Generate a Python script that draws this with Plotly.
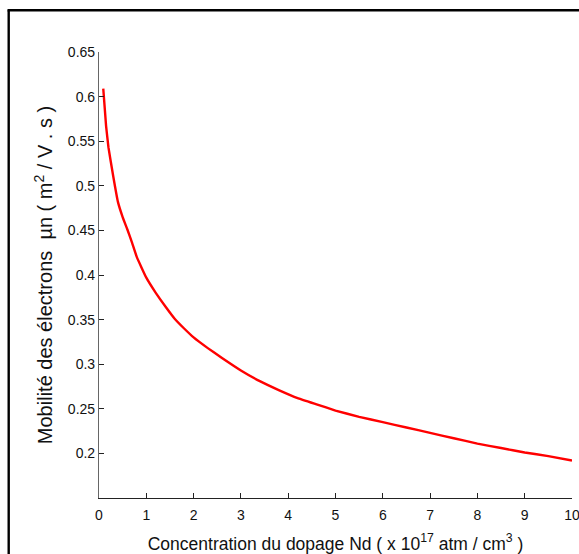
import plotly.graph_objects as go

# Doping concentration Nd (x 1e17 atm/cm^3) and electron mobility (m^2/V.s)
nd = [0.09, 0.15, 0.2, 0.3, 0.4, 0.5, 0.6, 0.7, 0.8, 1.0, 1.2, 1.4, 1.6, 1.8,
      2.0, 2.3, 2.6, 3.0, 3.4, 3.8, 4.2, 4.6, 5.0, 5.5, 6.0, 6.5, 7.0, 7.5,
      8.0, 8.5, 9.0, 9.5, 10.0]
mobility = [0.609, 0.567, 0.543, 0.511, 0.482, 0.465, 0.451, 0.436, 0.420,
            0.397, 0.380, 0.365, 0.351, 0.340, 0.330, 0.318, 0.307, 0.293,
            0.281, 0.271, 0.262, 0.255, 0.248, 0.241, 0.235, 0.229, 0.223,
            0.217, 0.211, 0.206, 0.201, 0.197, 0.192]

x_ticks = list(range(0, 11))
y_ticks = [0.2, 0.25, 0.3, 0.35, 0.4, 0.45, 0.5, 0.55, 0.6, 0.65]
y_tick_text = ["0.2", "0.25", "0.3", "0.35", "0.4", "0.45", "0.5", "0.55", "0.6", "0.65"]

W, H = 579, 554
L, R, T, B = 99, 7, 52, 56

fig = go.Figure()
fig.add_trace(go.Scatter(
    x=nd, y=mobility, mode="lines",
    line=dict(color="#ff0000", width=2.4, shape="spline", smoothing=0.3),
    showlegend=False, hoverinfo="skip",
))

font = "Liberation Sans, Arial, Helvetica, sans-serif"

fig.update_layout(
    width=W, height=H,
    margin=dict(l=L, r=R, t=T, b=B, pad=0),
    paper_bgcolor="white", plot_bgcolor="white",
    font=dict(family=font, size=14, color="#111"),
    showlegend=False,
)
fig.update_xaxes(
    range=[0, 10], tickvals=x_ticks, ticks="inside", ticklen=5, tickwidth=1,
    tickcolor="#222", showline=True, linecolor="#222", linewidth=1.2,
    showgrid=False, zeroline=False, automargin=False,
    ticklabeloverflow="allow", ticklabelstandoff=4,
    tickfont=dict(size=14, family=font, color="#111"),
    title=dict(text="Concentration du dopage Nd ( x 10<sup>17</sup> atm / cm<sup>3</sup> )",
               font=dict(size=17.5, family=font, color="#111"), standoff=15),
)
fig.update_yaxes(
    range=[0.15, 0.65], tickvals=y_ticks, ticktext=y_tick_text, ticks="inside",
    ticklen=5, tickwidth=1, tickcolor="#222", showline=True, linecolor="#666",
    linewidth=1.2, showgrid=False, zeroline=False, automargin=False,
    tickfont=dict(size=14, family=font, color="#111"),
    title=dict(text="Mobilité des électrons  µn ( m<sup>2</sup> / V . s )",
               font=dict(size=20, family=font, color="#111"), standoff=9),
)

# Black frame along the left and top edges of the figure
pw, ph = W - L - R, H - T - B
def px_x(p):
    return (p - L) / pw
def px_y(p):
    return (H - B - p) / ph
fig.add_shape(type="line", xref="paper", yref="paper",
              x0=px_x(8.7), x1=px_x(8.7), y0=px_y(10.3), y1=px_y(600),
              line=dict(color="black", width=2.4))
fig.add_shape(type="line", xref="paper", yref="paper",
              x0=px_x(7.5), x1=px_x(620), y0=px_y(10.3), y1=px_y(10.3),
              line=dict(color="black", width=2.4))

fig.write_html("out.html")
